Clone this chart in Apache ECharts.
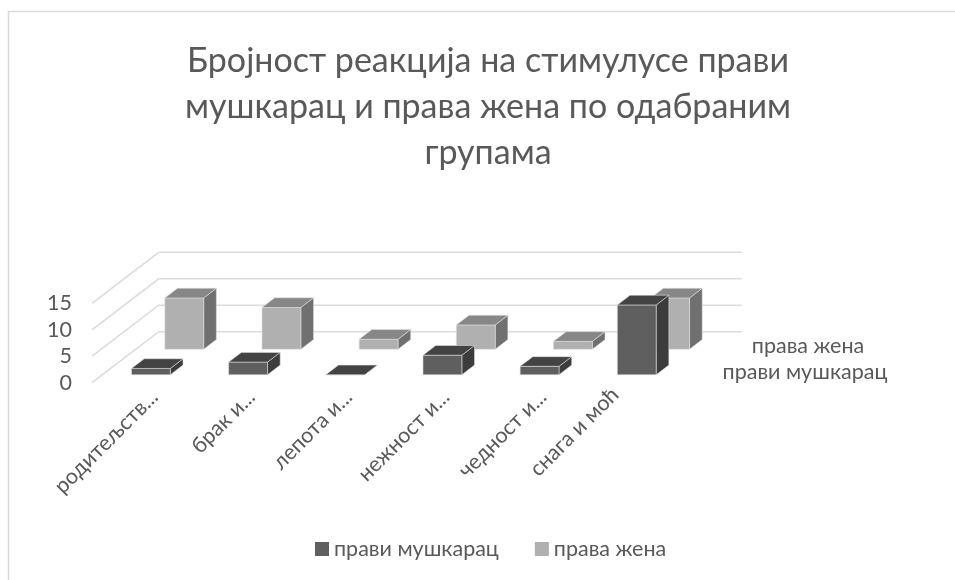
<!DOCTYPE html>
<html>
<head>
<meta charset="utf-8">
<style>html,body{margin:0;padding:0;background:#fff}#chart{width:955px;height:580px}</style>
<script src="https://cdn.jsdelivr.net/npm/echarts@6/dist/echarts.min.js"></script>
</head>
<body>
<div id="chart"></div>
<script>
const titleText = 'Бројност реакција на стимулусе прави\nмушкарац и права жена по одабраним\nгрупама';
const categories = ['родитељств...', 'брак и...', 'лепота и...', 'нежност и...', 'чедност и...', 'снага и моћ'];
const seriesMen = 'прави мушкарац';
const seriesWomen = 'права жена';
const menValues = [1.2, 2.4, 0, 3.7, 1.6, 13.2];
const womenValues = [9.7, 7.9, 1.9, 4.6, 1.5, 9.7];
const valueTicks = [0, 5, 10, 15];

const FONT = 'Lato, "Open Sans", sans-serif';
const TEXT = '#595959';
// Oblique projection of the chart's depth axis, in pixels.
const DEPTH_X = 66.7, DEPTH_Y = 51;
const BAR_W = 0.4, SLOT_START = 0.31, SLOT_DEPTH = 0.38;
const EDGE = 'rgba(225,225,225,0.7)';

function poly(points, fill) {
  return { type: 'polygon', shape: { points }, style: { fill, stroke: EDGE, lineWidth: 0.8 } };
}

// Draws one cuboid; slot 0 is the front row, slot 1 the back row.
function cuboid(slot, faces) {
  return function (params, api) {
    const base = api.coord([api.value(0), 0]);
    const top = api.coord([api.value(0), api.value(1)]);
    const band = api.size([1, 0])[0];
    const d0 = (slot + SLOT_START) / 2;
    const ox = d0 * DEPTH_X, oy = -d0 * DEPTH_Y;
    const dx = SLOT_DEPTH / 2 * DEPTH_X, dy = -SLOT_DEPTH / 2 * DEPTH_Y;
    const x0 = base[0] + ox - band * BAR_W / 2, x1 = x0 + band * BAR_W;
    const yb = base[1] + oy, yt = top[1] + oy;
    const children = [];
    children.push(poly([[x1, yt], [x1 + dx, yt + dy], [x1 + dx, yb + dy], [x1, yb]], faces.side));
    children.push(poly([[x0, yb], [x1, yb], [x1, yt], [x0, yt]], faces.front));
    children.push(poly([[x0, yt], [x1, yt], [x1 + dx, yt + dy], [x0 + dx, yt + dy]], faces.top));
    return { type: 'group', children };
  };
}

// Side wall and back wall rules for each value tick.
function wallLine(params, api) {
  const v = api.value(0);
  const band = api.size([1, 0])[0];
  const a = api.coord([0, v]), b = api.coord([categories.length - 1, v]);
  const xl = a[0] - band / 2, xr = b[0] + band / 2;
  return {
    type: 'polyline',
    shape: { points: [[xl, a[1]], [xl + DEPTH_X, a[1] - DEPTH_Y], [xr + DEPTH_X, a[1] - DEPTH_Y]] },
    style: { fill: 'none', stroke: '#dcdcdc', lineWidth: 1.6 }
  };
}

// Untruncated labels sit further back along the rotated baseline.
const categoryData = categories.map(c => c.endsWith('...') ? c : { value: c, textStyle: { padding: [8.5, 16, 0, 0], lineHeight: 60 } });

const chart = echarts.init(document.getElementById('chart'), null, { renderer: 'canvas' });
chart.setOption({
  animation: false,
  backgroundColor: '#fff',
  textStyle: { fontFamily: FONT, color: TEXT },
  title: {
    text: titleText, left: 483, top: 33, textAlign: 'center',
    textStyle: { fontFamily: FONT, fontSize: 34, fontWeight: 'normal', color: TEXT, lineHeight: 46 }
  },
  legend: {
    left: 310, top: 533, itemWidth: 14, itemHeight: 14, itemGap: 36,
    icon: 'rect', data: [seriesMen, seriesWomen],
    textStyle: { fontFamily: FONT, fontSize: 21.5, color: TEXT }
  },
  grid: { left: 92, top: 303.3, width: 583, height: 79.4 },
  xAxis: {
    type: 'category', data: categoryData,
    axisLine: { show: false }, axisTick: { show: false }, splitLine: { show: false },
    axisLabel: { rotate: 45, align: 'right', verticalAlign: 'top', interval: 0, margin: -3, padding: [8.5, 0, 0, 0], fontFamily: FONT, fontSize: 21.5, color: TEXT }
  },
  yAxis: {
    type: 'value', min: 0, max: 15, interval: 5,
    axisLine: { show: false }, axisTick: { show: false }, splitLine: { show: false },
    axisLabel: { margin: 20, fontFamily: FONT, fontSize: 21.5, color: TEXT }
  },
  graphic: [
    { type: 'polyline', shape: { points: [[8.5, 580], [8.5, 11.5], [955, 11.5]] },
      style: { fill: 'none', stroke: '#d9d9d9', lineWidth: 1.5 }, silent: true },
    { type: 'text', x: 808, y: 346, style: { text: seriesWomen, align: 'center', verticalAlign: 'middle', font: '21.5px ' + FONT, fill: TEXT } },
    { type: 'text', x: 805, y: 372, style: { text: seriesMen, align: 'center', verticalAlign: 'middle', font: '21.5px ' + FONT, fill: TEXT } }
  ],
  series: [
    { type: 'custom', silent: true, z: 1, data: valueTicks.map(v => [v]), renderItem: wallLine, encode: { y: 0 }, legendHoverLink: false },
    { type: 'custom', name: seriesWomen, z: 2, itemStyle: { color: '#b0b0b0' },
      data: womenValues.map((v, i) => [i, v]), encode: { x: 0, y: 1 },
      renderItem: cuboid(1, { front: '#b0b0b0', top: '#878787', side: '#707070' }) },
    { type: 'custom', name: seriesMen, z: 3, itemStyle: { color: '#5f5f5f' },
      data: menValues.map((v, i) => [i, v]), encode: { x: 0, y: 1 },
      renderItem: cuboid(0, { front: '#5f5f5f', top: '#434343', side: '#3c3c3c' }) }
  ]
});
</script>
</body>
</html>
